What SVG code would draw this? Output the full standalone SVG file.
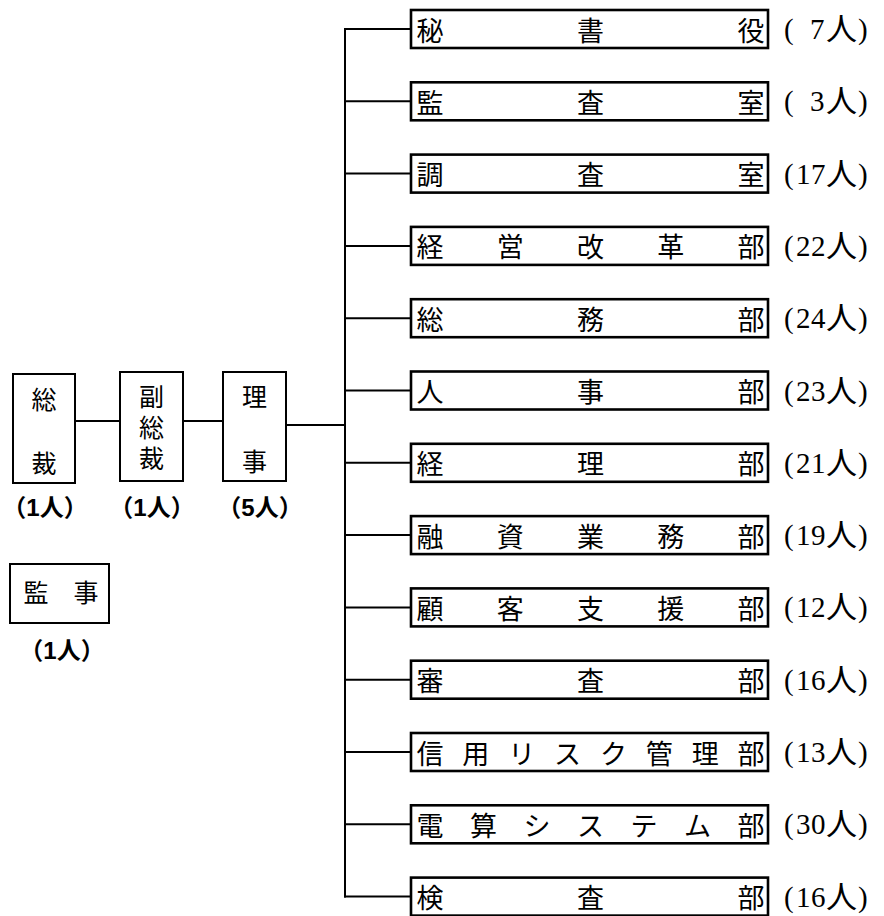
<svg xmlns="http://www.w3.org/2000/svg" width="884" height="916" viewBox="0 0 884 916">
<style>
.bg{fill:#fff}
.lbox{fill:#fff;stroke:#000;stroke-width:2}
.rbox{fill:#fff;stroke:#000;stroke-width:2.6}
.ln{fill:none;stroke:#000;stroke-width:2}
.jt{font-family:"Noto Sans CJK JP","Noto Sans CJK SC",sans-serif;font-size:27px;fill:#000;text-anchor:middle;dominant-baseline:central}
.lt{font-family:"Noto Sans CJK JP","Noto Sans CJK SC",sans-serif;font-size:25px;fill:#000;text-anchor:middle;dominant-baseline:central}
.cnt{font-family:"Liberation Serif","Noto Sans CJK JP",serif;font-size:29px;fill:#000;dominant-baseline:central}
.cnt .n{font-size:31px}
.pc{font-family:"Liberation Sans","Noto Sans CJK JP",sans-serif;font-size:24px;font-weight:bold;fill:#000;text-anchor:middle;dominant-baseline:central}
</style>
<rect class="bg" x="0" y="0" width="884" height="916"/>
<g id="connectors">
<line class="ln" x1="75" y1="421" x2="120" y2="421"/>
<line class="ln" x1="183" y1="421" x2="223" y2="421"/>
<line class="ln" x1="286" y1="425" x2="345" y2="425"/>
<line class="ln" x1="345" y1="29" x2="345" y2="897.6"/>
<line class="ln" x1="344" y1="29" x2="411" y2="29"/>
<line class="ln" x1="345" y1="101.3" x2="411" y2="101.3"/>
<line class="ln" x1="345" y1="173.6" x2="411" y2="173.6"/>
<line class="ln" x1="345" y1="245.9" x2="411" y2="245.9"/>
<line class="ln" x1="345" y1="318.2" x2="411" y2="318.2"/>
<line class="ln" x1="345" y1="390.5" x2="411" y2="390.5"/>
<line class="ln" x1="345" y1="462.8" x2="411" y2="462.8"/>
<line class="ln" x1="345" y1="535.1" x2="411" y2="535.1"/>
<line class="ln" x1="345" y1="607.4" x2="411" y2="607.4"/>
<line class="ln" x1="345" y1="679.7" x2="411" y2="679.7"/>
<line class="ln" x1="345" y1="752" x2="411" y2="752"/>
<line class="ln" x1="345" y1="824.3" x2="411" y2="824.3"/>
<line class="ln" x1="344" y1="896.6" x2="411" y2="896.6"/>
</g>
<g id="sousai">
<rect class="lbox" x="13" y="374" width="62" height="109"/>
<text class="lt" x="44" y="398">総</text>
<text class="lt" x="44" y="462">裁</text>
<text class="pc" x="45" y="507">（1人）</text>
</g>
<g id="fukusousai">
<rect class="lbox" x="120" y="372" width="63" height="109"/>
<text class="lt" x="151.5" y="395">副</text>
<text class="lt" x="151.5" y="426">総</text>
<text class="lt" x="151.5" y="457">裁</text>
<text class="pc" x="152" y="507">（1人）</text>
</g>
<g id="riji">
<rect class="lbox" x="223" y="372" width="63" height="109"/>
<text class="lt" x="254.5" y="395">理</text>
<text class="lt" x="254.5" y="460">事</text>
<text class="pc" x="260" y="507">（5人）</text>
</g>
<g id="kanji">
<rect class="lbox" x="10" y="564" width="99" height="59"/>
<text class="lt" x="36 86" y="591">監事</text>
<text class="pc" x="62" y="650">（1人）</text>
</g>
<g id="hishoyaku">
<rect class="rbox" x="411" y="10" width="357" height="38"/>
<text class="jt" x="430 590.5 751" y="29">秘書役</text>
<text class="cnt" x="784 810" y="29">(7<tspan class="n" x="826">人</tspan><tspan x="858">)</tspan></text>
</g>
<g id="kansashitsu">
<rect class="rbox" x="411" y="82.3" width="357" height="38"/>
<text class="jt" x="430 590.5 751" y="101.3">監査室</text>
<text class="cnt" x="784 810" y="101.3">(3<tspan class="n" x="826">人</tspan><tspan x="858">)</tspan></text>
</g>
<g id="chousashitsu">
<rect class="rbox" x="411" y="154.6" width="357" height="38"/>
<text class="jt" x="430 590.5 751" y="173.6">調査室</text>
<text class="cnt" x="784 796 811" y="173.6">(17<tspan class="n" x="826">人</tspan><tspan x="858">)</tspan></text>
</g>
<g id="keieikaikakubu">
<rect class="rbox" x="411" y="226.9" width="357" height="38"/>
<text class="jt" x="430 510.25 590.5 670.75 751" y="245.9">経営改革部</text>
<text class="cnt" x="784 796 811" y="245.9">(22<tspan class="n" x="826">人</tspan><tspan x="858">)</tspan></text>
</g>
<g id="soumubu">
<rect class="rbox" x="411" y="299.2" width="357" height="38"/>
<text class="jt" x="430 590.5 751" y="318.2">総務部</text>
<text class="cnt" x="784 796 811" y="318.2">(24<tspan class="n" x="826">人</tspan><tspan x="858">)</tspan></text>
</g>
<g id="jinjibu">
<rect class="rbox" x="411" y="371.5" width="357" height="38"/>
<text class="jt" x="430 590.5 751" y="390.5">人事部</text>
<text class="cnt" x="784 796 811" y="390.5">(23<tspan class="n" x="826">人</tspan><tspan x="858">)</tspan></text>
</g>
<g id="keiribu">
<rect class="rbox" x="411" y="443.8" width="357" height="38"/>
<text class="jt" x="430 590.5 751" y="462.8">経理部</text>
<text class="cnt" x="784 796 811" y="462.8">(21<tspan class="n" x="826">人</tspan><tspan x="858">)</tspan></text>
</g>
<g id="yuushigyoumubu">
<rect class="rbox" x="411" y="516.1" width="357" height="38"/>
<text class="jt" x="430 510.25 590.5 670.75 751" y="535.1">融資業務部</text>
<text class="cnt" x="784 796 811" y="535.1">(19<tspan class="n" x="826">人</tspan><tspan x="858">)</tspan></text>
</g>
<g id="kokyakushienbu">
<rect class="rbox" x="411" y="588.4" width="357" height="38"/>
<text class="jt" x="430 510.25 590.5 670.75 751" y="607.4">顧客支援部</text>
<text class="cnt" x="784 796 811" y="607.4">(12<tspan class="n" x="826">人</tspan><tspan x="858">)</tspan></text>
</g>
<g id="shinsabu">
<rect class="rbox" x="411" y="660.7" width="357" height="38"/>
<text class="jt" x="430 590.5 751" y="679.7">審査部</text>
<text class="cnt" x="784 796 811" y="679.7">(16<tspan class="n" x="826">人</tspan><tspan x="858">)</tspan></text>
</g>
<g id="shinyouriskkanribu">
<rect class="rbox" x="411" y="733" width="357" height="38"/>
<text class="jt" x="430 475.86 521.71 567.57 613.43 659.29 705.14 751" y="752">信用リスク管理部</text>
<text class="cnt" x="784 796 811" y="752">(13<tspan class="n" x="826">人</tspan><tspan x="858">)</tspan></text>
</g>
<g id="densansystembu">
<rect class="rbox" x="411" y="805.3" width="357" height="38"/>
<text class="jt" x="430 483.5 537 590.5 644 697.5 751" y="824.3">電算システム部</text>
<text class="cnt" x="784 796 811" y="824.3">(30<tspan class="n" x="826">人</tspan><tspan x="858">)</tspan></text>
</g>
<g id="kensabu">
<rect class="rbox" x="411" y="877.6" width="357" height="38"/>
<text class="jt" x="430 590.5 751" y="896.6">検査部</text>
<text class="cnt" x="784 796 811" y="896.6">(16<tspan class="n" x="826">人</tspan><tspan x="858">)</tspan></text>
</g>
</svg>
